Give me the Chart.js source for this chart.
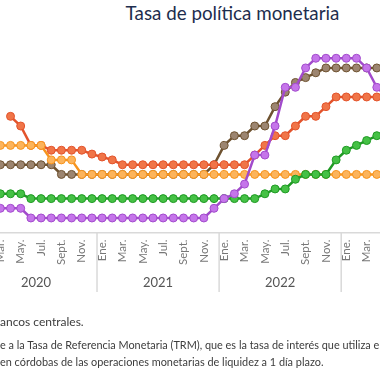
<!DOCTYPE html>
<html lang="es">
<head>
<meta charset="utf-8">
<title>Tasa de política monetaria</title>
<script src="https://cdn.jsdelivr.net/npm/chart.js@4.4.1/dist/chart.umd.min.js"></script>
<style>
    html, body {
        margin: 0;
        padding: 0;
        width: 380px;
        height: 380px;
        overflow: hidden;
        background: #fff;
        position: relative;
        font-family: Lato, 'Open Sans', sans-serif;
    }
    #titulo {
        position: absolute;
        left: 0;
        top: 2px;
        width: 465px;
        text-align: center;
        font-size: 18.8px;
        line-height: 22px;
        color: #1d2d4e;
    }
    #grafico {
        position: absolute;
        left: -30px;
        top: 0;
    }
    .nota {
        position: absolute;
        left: 0;
        white-space: nowrap;
        color: #3c3c3c;
    }
</style>
</head>
<body>
<div id="titulo">Tasa de política monetaria</div>
<canvas id="grafico" width="427" height="380"></canvas>
<div class="nota" style="top:315px; font-size:12px; line-height:14px;">ancos centrales.</div>
<div class="nota" style="top:339px; font-size:10.9px; line-height:12px;">e a la Tasa de Referencia Monetaria (TRM), que es la tasa de interés que utiliza el</div>
<div class="nota" style="top:356px; font-size:10.9px; line-height:12px;">en córdobas de las operaciones monetarias de liquidez a 1 día plazo.</div>

<script>
// meses de ene. 2020 a may. 2023
const meses = ['Ene.', 'Feb.', 'Mar.', 'Abr.', 'May.', 'Jun.', 'Jul.', 'Ago.', 'Sept.', 'Oct.', 'Nov.', 'Dic.'];
const anios = ['2020', '2021', '2022', '2023'];
const totalMeses = 41;

const nicaragua = [null, null, null, 6.0, 5.5, 4.5, 4.5, 4.25, 4.25, 4.25, 4.25, 4.05,
    3.9, 3.75, 3.5, 3.5, 3.5, 3.5, 3.5, 3.5, 3.5, 3.5, 3.5, 3.5,
    3.5, 3.5, 3.5, 4.0, 4.5, 5.0, 5.0, 5.5, 6.0, 6.0, 6.5, 7.0,
    7.0, 7.0, 7.0, 7.0, 7.0];
const honduras = [4.5, 4.5, 4.5, 4.5, 4.5, 4.5, 4.5, 3.75, 3.75, 3.75, 3.0, 3.0,
    3.0, 3.0, 3.0, 3.0, 3.0, 3.0, 3.0, 3.0, 3.0, 3.0, 3.0, 3.0,
    3.0, 3.0, 3.0, 3.0, 3.0, 3.0, 3.0, 3.0, 3.0, 3.0, 3.0, 3.0,
    3.0, 3.0, 3.0, 3.0, 3.0];
const dominicana = [3.5, 3.5, 3.5, 3.5, 3.5, 3.5, 3.5, 3.5, 3.0, 3.0, 3.0, 3.0,
    3.0, 3.0, 3.0, 3.0, 3.0, 3.0, 3.0, 3.0, 3.0, 3.0, 3.0, 3.5,
    4.5, 5.0, 5.0, 5.5, 5.5, 6.5, 7.25, 7.75, 8.0, 8.25, 8.5, 8.5,
    8.5, 8.5, 8.5, 8.5, 8.5];
const guatemala = [2.0, 2.0, 2.0, 2.0, 2.0, 1.75, 1.75, 1.75, 1.75, 1.75, 1.75, 1.75,
    1.75, 1.75, 1.75, 1.75, 1.75, 1.75, 1.75, 1.75, 1.75, 1.75, 1.75, 1.75,
    1.75, 1.75, 1.75, 1.75, 2.0, 2.25, 2.25, 2.75, 3.0, 3.0, 3.0, 3.75,
    4.25, 4.5, 4.75, 5.0, 5.0];
const costaRica = [1.25, 1.25, 1.25, 1.25, 1.25, 0.75, 0.75, 0.75, 0.75, 0.75, 0.75, 0.75,
    0.75, 0.75, 0.75, 0.75, 0.75, 0.75, 0.75, 0.75, 0.75, 0.75, 0.75, 1.25,
    1.75, 2.0, 2.5, 4.0, 4.0, 5.5, 7.5, 7.5, 8.5, 9.0, 9.0, 9.0,
    9.0, 9.0, 8.5, 7.5, 7.0];

let etiquetas = [];
for (let i = 0; i < totalMeses; i++) {
    etiquetas.push(meses[i % 12] + ' ' + anios[Math.floor(i / 12)]);
}

// separadores y rótulos de año debajo de los meses
const rotulosAnio = {
    id: 'rotulosAnio',
    afterDraw(chart) {
        const x = chart.scales.x;
        const ctx = chart.ctx;
        const abajo = chart.chartArea.bottom;
        const paso = x.getPixelForValue(1) - x.getPixelForValue(0);

        ctx.save();
        ctx.strokeStyle = '#d9d9d9';
        ctx.lineWidth = 1.5;
        ctx.fillStyle = '#555';
        ctx.font = '13px Lato';
        ctx.textAlign = 'center';
        ctx.textBaseline = 'middle';
        anios.forEach((anio, i) => {
            const ini = x.getPixelForValue(i * 12);
            const fin = x.getPixelForValue(i * 12 + 11);
            if (i > 0) {
                ctx.beginPath();
                ctx.moveTo(ini - paso / 2, abajo);
                ctx.lineTo(ini - paso / 2, abajo + 59.5);
                ctx.stroke();
            }
            ctx.fillText(anio, (ini + fin) / 2, abajo + 50.5);
        });
        ctx.restore();
    }
};

function serie(nombre, datos, linea, relleno) {
    return {
        label: nombre,
        data: datos,
        borderColor: linea,
        backgroundColor: relleno,
        pointBackgroundColor: relleno,
        pointBorderColor: linea,
        pointBorderWidth: 1,
        pointRadius: 4,
        borderWidth: 2.5,
        tension: 0
    };
}

new Chart(document.getElementById('grafico'), {
    type: 'line',
    data: {
        labels: etiquetas,
        datasets: [
            serie('Costa Rica', costaRica, '#a24bcc', '#c575ea'),
            serie('Guatemala', guatemala, '#1f9a24', '#45c145'),
            serie('Honduras', honduras, '#f7941d', '#fcb45c'),
            serie('Nicaragua', nicaragua, '#e3532b', '#f07548'),
            serie('República Dominicana', dominicana, '#6e5230', '#9c8570')
        ]
    },
    options: {
        responsive: false,
        animation: false,
        layout: {
            padding: { left: 10, right: 10, top: 38.9, bottom: 0 }
        },
        scales: {
            x: {
                afterFit: (scale) => {
                    scale.height = 147.5;
                    scale.paddingLeft = 0;
                    scale.paddingRight = 0;
                },
                grid: { display: false, drawTicks: false },
                border: { display: true, color: '#d9d9d9', width: 1.5 },
                ticks: {
                    autoSkip: false,
                    minRotation: 90,
                    maxRotation: 90,
                    padding: 7,
                    color: '#777',
                    font: { family: 'Lato', size: 11.5 },
                    callback: (valor, i) => i % 2 === 0 ? meses[i % 12] : ''
                }
            },
            y: {
                display: false,
                min: 0,
                max: 10
            }
        },
        plugins: {
            legend: { display: false },
            tooltip: { enabled: false }
        }
    },
    plugins: [rotulosAnio]
});
</script>
</body>
</html>
